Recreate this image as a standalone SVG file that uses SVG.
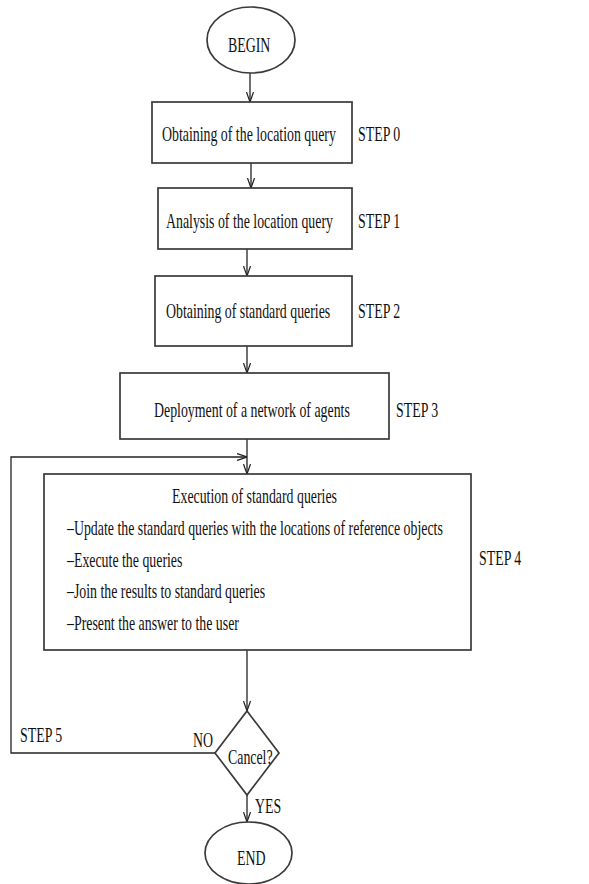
<svg xmlns="http://www.w3.org/2000/svg" width="589" height="884" viewBox="0 0 589 884">
  <defs>
    <marker id="arrow" viewBox="0 0 10 8" refX="10" refY="4" markerWidth="10" markerHeight="8" markerUnits="userSpaceOnUse" orient="auto">
      <path d="M0,0.5 L10,4 L0,7.5" fill="none" stroke="#222" stroke-width="1.2"/>
    </marker>
  </defs>
  <style>
    .shape { fill: #fff; stroke: #3a3a3a; stroke-width: 1.7; }
    .edge { fill: none; stroke: #222; stroke-width: 1.3; }
    .t { font-family: "Liberation Serif", "Times New Roman", serif; font-size: 21px; fill: #111; }
  </style>
  <rect width="589" height="884" fill="#fff"/>

  <!-- connectors -->
  <g id="connectors">
    <path class="edge" d="M250,73 L250,102" marker-end="url(#arrow)"/>
    <path class="edge" d="M251,163 L251,188" marker-end="url(#arrow)"/>
    <path class="edge" d="M247,249 L247,276" marker-end="url(#arrow)"/>
    <path class="edge" d="M247,346 L247,373" marker-end="url(#arrow)"/>
    <path class="edge" d="M247,439 L247,474" marker-end="url(#arrow)"/>
    <path class="edge" d="M215,753 L11,753 L11,457 L247,457" marker-end="url(#arrow)"/>
    <path class="edge" d="M247,650 L247,711" marker-end="url(#arrow)"/>
    <path class="edge" d="M247,795 L247,822" marker-end="url(#arrow)"/>
  </g>

  <!-- text is set in a condensed serif: each label is scaled to 0.66 horizontally -->
  <g id="begin">
    <ellipse class="shape" cx="251" cy="40" rx="44" ry="33"/>
    <text class="t" transform="translate(228,52) scale(0.66,1)">BEGIN</text>
  </g>

  <g id="step0">
    <rect class="shape" x="152" y="102" width="200" height="61"/>
    <text class="t" transform="translate(162,141) scale(0.66,1)">Obtaining of the location query</text>
    <text class="t" transform="translate(358,141) scale(0.66,1)">STEP 0</text>
  </g>

  <g id="step1">
    <rect class="shape" x="158" y="188" width="194" height="61"/>
    <text class="t" transform="translate(166,228) scale(0.66,1)">Analysis of the location query</text>
    <text class="t" transform="translate(358,228) scale(0.66,1)">STEP 1</text>
  </g>

  <g id="step2">
    <rect class="shape" x="155" y="276" width="197" height="70"/>
    <text class="t" transform="translate(166,318) scale(0.66,1)">Obtaining of standard queries</text>
    <text class="t" transform="translate(358,318) scale(0.66,1)">STEP 2</text>
  </g>

  <g id="step3">
    <rect class="shape" x="120" y="373" width="269" height="66"/>
    <text class="t" transform="translate(154,417) scale(0.66,1)">Deployment of a network of agents</text>
    <text class="t" transform="translate(396,417) scale(0.66,1)">STEP 3</text>
  </g>

  <g id="step4">
    <rect class="shape" x="44" y="474" width="427" height="176"/>
    <text class="t" transform="translate(172,503) scale(0.66,1)">Execution of standard queries</text>
    <text class="t" transform="translate(67,535) scale(0.66,1)">–Update the standard queries with the locations of reference objects</text>
    <text class="t" transform="translate(67,567) scale(0.66,1)">–Execute the queries</text>
    <text class="t" transform="translate(67,598) scale(0.66,1)">–Join the results to standard queries</text>
    <text class="t" transform="translate(67,630) scale(0.66,1)">–Present the answer to the user</text>
    <text class="t" transform="translate(479,565) scale(0.66,1)">STEP 4</text>
  </g>

  <g id="cancel">
    <polygon class="shape" points="247,711 279,753 247,795 215,753"/>
    <text class="t" transform="translate(228,764) scale(0.66,1)">Cancel?</text>
    <text class="t" transform="translate(193,747) scale(0.66,1)">NO</text>
    <text class="t" transform="translate(255,813) scale(0.66,1)">YES</text>
    <text class="t" transform="translate(20,742) scale(0.66,1)">STEP 5</text>
  </g>

  <g id="end">
    <ellipse class="shape" cx="248.5" cy="853" rx="43.5" ry="31"/>
    <text class="t" transform="translate(237,865) scale(0.66,1)">END</text>
  </g>
</svg>
